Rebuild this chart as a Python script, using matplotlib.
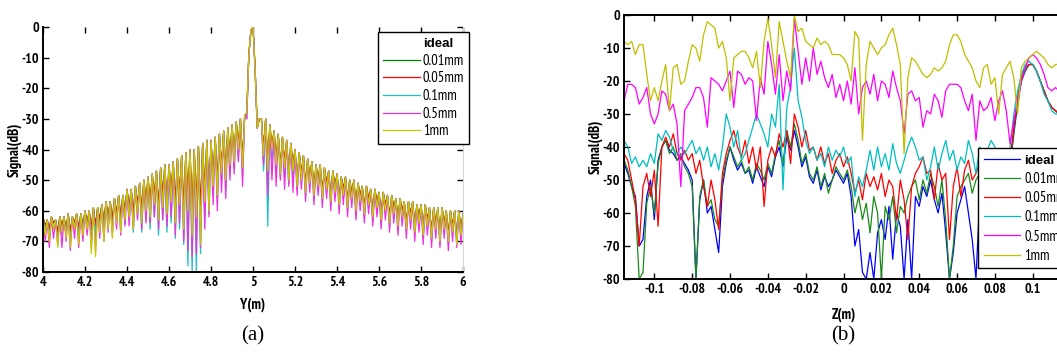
import matplotlib.pyplot as plt
import numpy as np

narrow = ['Arial Narrow', 'Liberation Sans Narrow', 'PT Sans Narrow', 'Fira Sans Condensed',
          'IBM Plex Sans Condensed', 'Archivo Narrow', 'Roboto Condensed',
          'Liberation Sans', 'DejaVu Sans']
plt.rcParams['font.family'] = narrow
plt.rcParams['axes.unicode_minus'] = False

labels = ['ideal', '0.01mm', '0.05mm', '0.1mm', '0.5mm', '1mm']

# (a) range profile along Y, sampled every 0.01 m from 4 to 6
y_pos = np.round(np.arange(4.0, 6.0001, 0.01), 2)

# ideal, 0.01mm and 0.05mm are indistinguishable in the picture
sig_a_small = [
    -62, -65, -63, -66, -62, -64, -63, -67, -62, -65,
    -62, -66, -61, -67, -62, -64, -61, -66, -61, -65,
    -60, -64, -60, -66, -59, -65, -59, -63, -58, -64,
    -57, -62, -57, -63, -56, -61, -55, -62, -55, -60,
    -53, -59, -53, -61, -52, -58, -51, -60, -50, -57,
    -49, -58, -48, -55, -47, -59, -46, -55, -45, -58,
    -45, -54, -44, -58, -43, -55, -42, -60, -41, -57,
    -40, -62, -40, -58, -39, -61, -38, -54, -37, -56,
    -37, -49, -36, -51, -35, -46, -34, -47, -33, -43,
    -32, -42, -31, -38, -30, -44, -29, -28, -9, -1,
    0, -14, -33, -30, -30, -40, -30, -45, -32, -39,
    -34, -43, -35, -46, -36, -44, -37, -48, -38, -45,
    -40, -50, -41, -48, -42, -52, -43, -49, -44, -53,
    -45, -50, -45, -54, -46, -51, -47, -55, -47, -52,
    -48, -56, -49, -53, -49, -57, -50, -54, -50, -58,
    -51, -55, -52, -59, -52, -56, -53, -60, -53, -57,
    -54, -61, -54, -58, -55, -62, -55, -59, -56, -63,
    -56, -60, -57, -64, -57, -61, -57, -65, -58, -62,
    -58, -66, -58, -63, -59, -67, -59, -64, -59, -68,
    -59, -64, -60, -68, -60, -65, -60, -69, -60, -66,
    -61]

sig_a_01 = [
    -62, -67, -63, -69, -62, -66, -63, -70, -62, -68,
    -62, -68, -61, -70, -62, -66, -61, -69, -61, -67,
    -60, -66, -60, -70, -59, -68, -59, -66, -58, -67,
    -57, -65, -57, -67, -56, -64, -55, -66, -55, -64,
    -53, -63, -53, -67, -52, -62, -51, -67, -50, -63,
    -49, -66, -48, -62, -47, -68, -46, -63, -45, -67,
    -45, -64, -44, -69, -43, -66, -42, -71, -41, -78,
    -40, -80, -40, -80, -39, -74, -38, -64, -37, -61,
    -37, -55, -36, -57, -35, -51, -34, -53, -33, -48,
    -32, -46, -31, -43, -30, -49, -29, -30, -9, -1,
    0, -14, -33, -30, -30, -47, -30, -65, -32, -45,
    -34, -48, -35, -49, -36, -49, -37, -51, -38, -50,
    -40, -53, -41, -51, -42, -55, -43, -52, -44, -56,
    -45, -53, -45, -57, -46, -54, -47, -58, -47, -55,
    -48, -59, -49, -56, -49, -60, -50, -57, -50, -61,
    -51, -58, -52, -62, -52, -59, -53, -63, -53, -60,
    -54, -64, -54, -61, -55, -65, -55, -62, -56, -66,
    -56, -63, -57, -67, -57, -64, -57, -68, -58, -65,
    -58, -69, -58, -66, -59, -70, -59, -67, -59, -71,
    -59, -67, -60, -71, -60, -68, -60, -70, -60, -69,
    -61]

sig_a_05 = [
    -62, -70, -63, -72, -62, -69, -63, -71, -62, -72,
    -62, -70, -61, -73, -62, -69, -61, -72, -61, -70,
    -60, -68, -60, -72, -59, -73, -59, -69, -58, -70,
    -57, -67, -57, -68, -56, -66, -55, -68, -55, -65,
    -53, -65, -53, -66, -52, -63, -51, -66, -50, -64,
    -49, -64, -48, -62, -47, -66, -46, -63, -45, -65,
    -45, -62, -44, -68, -43, -64, -42, -70, -41, -73,
    -40, -75, -40, -74, -39, -72, -38, -66, -37, -62,
    -37, -58, -36, -60, -35, -54, -34, -56, -33, -50,
    -32, -48, -31, -44, -30, -52, -29, -30, -9, -1,
    0, -14, -33, -30, -30, -45, -30, -55, -32, -50,
    -34, -52, -35, -50, -36, -53, -37, -52, -38, -54,
    -40, -55, -41, -53, -42, -57, -43, -54, -44, -58,
    -45, -55, -45, -59, -46, -56, -47, -60, -47, -57,
    -48, -61, -49, -58, -49, -62, -50, -59, -50, -63,
    -51, -60, -52, -64, -52, -61, -53, -65, -53, -62,
    -54, -66, -54, -63, -55, -67, -55, -64, -56, -68,
    -56, -65, -57, -69, -57, -66, -57, -70, -58, -67,
    -58, -71, -58, -68, -59, -72, -59, -69, -59, -72,
    -59, -69, -60, -73, -60, -70, -60, -72, -60, -71,
    -61]

sig_a_1 = [
    -62, -68, -63, -70, -62, -66, -63, -72, -62, -67,
    -62, -69, -61, -72, -62, -66, -61, -71, -61, -68,
    -60, -66, -60, -74, -59, -75, -59, -67, -58, -70,
    -57, -66, -57, -69, -56, -64, -55, -67, -55, -63,
    -53, -62, -53, -66, -52, -61, -51, -64, -50, -60,
    -49, -62, -48, -58, -47, -63, -46, -59, -45, -61,
    -45, -57, -44, -64, -43, -58, -42, -66, -41, -60,
    -40, -68, -40, -62, -39, -71, -38, -57, -37, -60,
    -37, -52, -36, -55, -35, -48, -34, -50, -33, -45,
    -32, -44, -31, -40, -30, -46, -29, -28, -9, -1,
    0, -14, -33, -30, -30, -42, -30, -47, -32, -40,
    -34, -45, -35, -48, -36, -46, -37, -50, -38, -47,
    -40, -52, -41, -50, -42, -54, -43, -51, -44, -55,
    -45, -52, -45, -56, -46, -53, -47, -57, -47, -54,
    -48, -58, -49, -55, -49, -59, -50, -56, -50, -60,
    -51, -57, -52, -61, -52, -58, -53, -62, -53, -59,
    -54, -63, -54, -60, -55, -64, -55, -61, -56, -65,
    -56, -62, -57, -66, -57, -63, -57, -67, -58, -64,
    -58, -68, -58, -65, -59, -69, -59, -66, -59, -70,
    -59, -66, -60, -70, -60, -67, -60, -71, -60, -68,
    -61]

# (b) profile along Z, sampled every 0.002 m from -0.116 to 0.116
z_pos = np.round(np.arange(-0.116, 0.11601, 0.002), 3)

sig_b_ideal = [
    -45, -48, -52, -55, -70, -68, -55, -50, -62, -44,
    -40, -38, -41, -42, -44, -43, -45, -47, -50, -80,
    -56, -50, -60, -58, -65, -72, -52, -45, -40, -44,
    -47, -45, -48, -47, -51, -46, -49, -52, -46, -49,
    -43, -40, -46, -37, -41, -35, -40, -46, -43, -49,
    -51, -47, -53, -49, -52, -50, -47, -49, -51, -48,
    -55, -70, -65, -78, -80, -72, -80, -66, -62, -68,
    -58, -74, -60, -64, -80, -62, -80, -55, -58, -52,
    -55, -50, -56, -60, -54, -66, -80, -72, -60, -56,
    -52, -60, -68, -80, -55, -50, -48, -50, -49, -52,
    -50, -49, -46, -36, -27, -20, -17, -15, -15, -17,
    -20, -23, -26, -28, -29, -30, -30]

sig_b_001 = [
    -44, -47, -52, -58, -80, -78, -57, -52, -60, -45,
    -40, -38, -42, -40, -44, -42, -46, -48, -52, -80,
    -55, -50, -58, -56, -62, -64, -50, -44, -40, -43,
    -46, -44, -48, -46, -50, -45, -47, -50, -45, -48,
    -42, -38, -45, -35, -40, -33, -38, -45, -42, -48,
    -50, -46, -52, -48, -54, -50, -46, -48, -50, -47,
    -52, -60, -55, -62, -57, -66, -55, -60, -80, -58,
    -62, -55, -66, -58, -60, -55, -52, -50, -56, -50,
    -54, -48, -52, -58, -50, -62, -80, -70, -55, -52,
    -50, -48, -54, -50, -48, -47, -46, -48, -47, -50,
    -49, -48, -45, -35, -26, -20, -17, -15, -15, -17,
    -20, -23, -26, -28, -29, -30, -30]

sig_b_005 = [
    -42, -44, -50, -56, -70, -52, -48, -55, -47, -64,
    -40, -37, -40, -36, -42, -44, -41, -44, -42, -48,
    -44, -52, -58, -50, -56, -65, -48, -42, -38, -35,
    -40, -43, -38, -45, -40, -47, -40, -58, -44, -40,
    -43, -36, -40, -35, -45, -30, -34, -40, -35, -41,
    -40, -44, -40, -45, -42, -48, -44, -42, -46, -43,
    -48, -54, -50, -56, -48, -52, -49, -53, -48, -55,
    -50, -52, -62, -50, -56, -68, -52, -48, -46, -43,
    -48, -47, -56, -45, -50, -48, -68, -52, -46, -55,
    -47, -44, -50, -48, -45, -47, -46, -48, -44, -46,
    -45, -48, -44, -34, -25, -19, -16, -15, -15, -17,
    -20, -23, -26, -28, -29, -30, -30]

sig_b_01 = [
    -38, -40, -45, -43, -46, -44, -46, -42, -45, -36,
    -38, -35, -37, -41, -42, -40, -42, -40, -38, -42,
    -40, -44, -40, -46, -42, -47, -40, -30, -34, -40,
    -35, -44, -42, -38, -34, -30, -33, -36, -40, -30,
    -34, -21, -53, -28, -22, -10, -26, -31, -38, -42,
    -40, -44, -42, -46, -40, -44, -41, -43, -40, -45,
    -43, -55, -49, -52, -47, -41, -47, -40, -46, -42,
    -47, -39, -45, -48, -44, -40, -37, -40, -44, -43,
    -50, -46, -40, -47, -42, -38, -44, -41, -47, -43,
    -45, -38, -42, -48, -40, -42, -41, -38, -40, -45,
    -42, -48, -40, -30, -23, -18, -15, -14, -15, -17,
    -20, -24, -26, -29, -30, -30, -30]

sig_b_05 = [
    -26, -21, -21, -22, -27, -25, -22, -30, -33, -30,
    -23, -24, -29, -27, -33, -52, -29, -27, -25, -22,
    -22, -25, -34, -19, -20, -21, -23, -20, -17, -28,
    -17, -18, -21, -19, -20, -32, -19, -24, -8, -15,
    -24, -12, -26, -17, -23, -1, -11, -21, -13, -20,
    -10, -18, -14, -19, -22, -18, -25, -21, -26, -20,
    -27, -16, -30, -22, -20, -24, -18, -26, -20, -21,
    -25, -17, -22, -26, -36, -24, -23, -26, -25, -34,
    -29, -30, -24, -26, -31, -23, -21, -21, -21, -22,
    -26, -29, -24, -38, -26, -29, -28, -25, -32, -26,
    -23, -29, -39, -32, -26, -20, -16, -13, -12, -13,
    -15, -18, -22, -23, -22, -23, -23]

sig_b_1 = [
    -8, -9, -8, -12, -9, -9, -18, -26, -22, -26,
    -20, -15, -29, -16, -15, -21, -20, -14, -9, -10,
    -14, -6, -2, -3, -4, -10, -8, -13, -26, -13,
    -12, -11, -11, -13, -16, -11, -22, -8, -1, -9,
    -19, -2, -8, -14, -19, 0, -5, -4, -8, -9,
    -10, -7, -9, -8, -9, -12, -12, -12, -13, -15,
    -20, -5, -7, -38, -15, -8, -10, -12, -10, -9,
    -6, -4, -9, -15, -42, -19, -13, -14, -16, -18,
    -19, -18, -16, -17, -16, -14, -9, -6, -6, -8,
    -12, -14, -16, -20, -22, -16, -15, -21, -19, -30,
    -18, -16, -14, -19, -30, -16, -14, -13, -12, -11,
    -12, -13, -15, -16, -15, -15, -14]

colors_a = ['white', '#008000', '#ff0000', '#20c0c0', '#f030e0', '#c8c800']
colors_b = ['#0000ff', '#1a8a1a', '#ff0000', '#00bfbf', '#ff00ff', '#bfbf00']

series_a = [sig_a_small, sig_a_small, sig_a_small, sig_a_01, sig_a_05, sig_a_1]
series_b = [sig_b_ideal, sig_b_001, sig_b_005, sig_b_01, sig_b_05, sig_b_1]

fig = plt.figure(figsize=(10.57, 3.58), dpi=100)
ax1 = fig.add_axes([0.0407, 0.2402, 0.3974, 0.6844])
ax2 = fig.add_axes([0.5904, 0.2207, 0.4153, 0.7374])

for s, c, lab in zip(series_a, colors_a, labels):
    ax1.plot(y_pos, s, color=c, lw=0.9, label=lab)
for s, c, lab in zip(series_b, colors_b, labels):
    ax2.plot(z_pos, s, color=c, lw=0.9, label=lab)

# axes (a)
ax1.set_xlim(4, 6)
ax1.set_ylim(-80, 0)
xt_a = np.round(np.arange(4, 6.01, 0.2), 1)
ax1.set_xticks(xt_a)
ax1.set_xticklabels([f'{v:g}' for v in xt_a])
ax1.set_yticks(range(-80, 1, 10))
ax1.set_yticklabels([str(v) for v in range(-80, 1, 10)])
ax1.spines['top'].set_visible(False)
ax1.spines['right'].set_color('#d8d8d8')
ax1.set_xlabel('Y(m)', fontsize=10.5, fontweight='bold', labelpad=6)
ax1.set_ylabel('Signal(dB)', fontsize=10.5, fontweight='bold', labelpad=0)

# axes (b)
ax2.set_xlim(-0.116, 0.116)
ax2.set_ylim(-80, 0)
xt_b = np.round(np.arange(-0.1, 0.101, 0.02), 2)
ax2.set_xticks(xt_b)
ax2.set_xticklabels([f'{v:g}' for v in xt_b])
ax2.set_yticks(range(-80, 1, 10))
ax2.set_yticklabels([str(v) for v in range(-80, 1, 10)])
ax2.set_xlabel('Z(m)', fontsize=10.5, fontweight='bold', labelpad=8)
ax2.set_ylabel('Signal(dB)', fontsize=10.5, fontweight='bold', labelpad=0)

for ax in (ax1, ax2):
    ax.tick_params(direction='in', top=True, right=True, length=4, width=1,
                   labelsize=10, pad=3)
    for lab in ax.get_xticklabels() + ax.get_yticklabels():
        lab.set_fontweight('bold')
    for name in ('left', 'bottom', 'top'):
        ax.spines[name].set_linewidth(1.4)

leg1 = ax1.legend(loc='upper left', bbox_to_anchor=(0.798, 0.98), fontsize=10.5,
                  frameon=True, fancybox=False, framealpha=1, edgecolor='black',
                  borderaxespad=0, handlelength=2.5, handletextpad=0.2,
                  labelspacing=0.25, borderpad=0.35)
leg2 = ax2.legend(loc='upper left', bbox_to_anchor=(0.806, 0.496), fontsize=10.5,
                  frameon=True, fancybox=False, framealpha=1, edgecolor='black',
                  borderaxespad=0, handlelength=2.5, handletextpad=0.3,
                  labelspacing=0.35, borderpad=0.4)
for leg in (leg1, leg2):
    leg.get_frame().set_linewidth(1.0)
    leg.get_texts()[0].set_fontweight('bold')
    leg.get_texts()[0].set_family(['Liberation Sans', 'DejaVu Sans'])
    leg.get_texts()[0].set_fontsize(9.5)

fig.text(0.239, 0.035, '(a)', ha='center', va='bottom', fontsize=15,
         family='Liberation Serif')
fig.text(0.798, 0.035, '(b)', ha='center', va='bottom', fontsize=15,
         family='Liberation Serif')

fig.savefig('out.png', dpi=100)
